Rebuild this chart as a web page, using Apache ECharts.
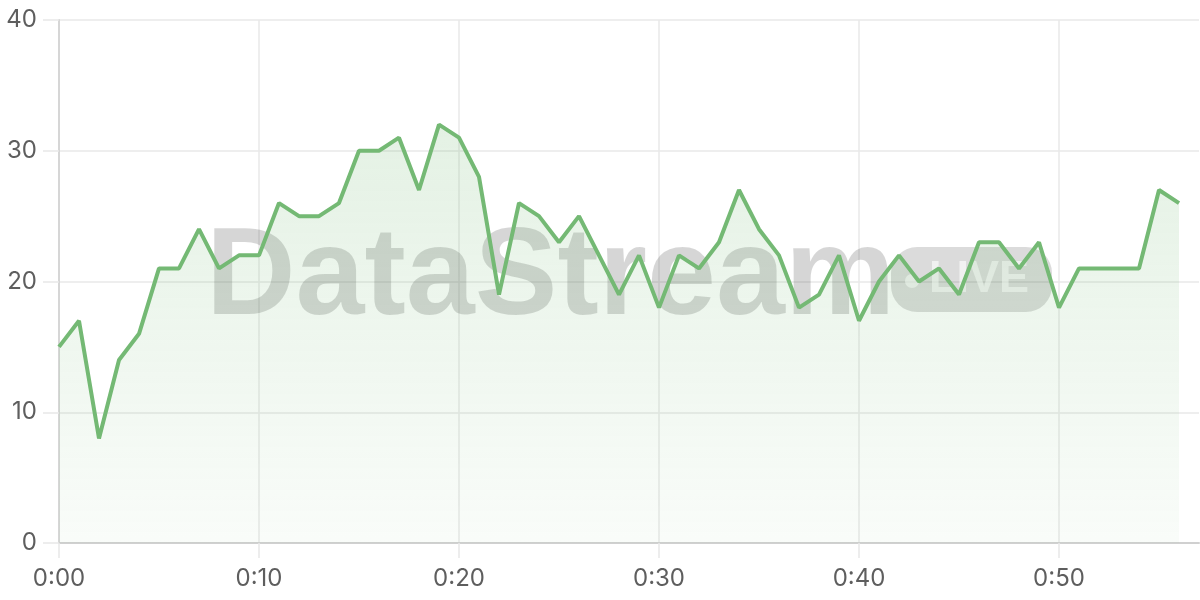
<!DOCTYPE html>
<html>
<head>
<meta charset="utf-8">
<script src="https://cdn.jsdelivr.net/npm/echarts@6/dist/echarts.min.js"></script>
<style>html,body{margin:0;padding:0;background:#fff}#c{width:1200px;height:600px}</style>
</head>
<body>
<div id="c"></div>
<script>
// minutes 0..57 (axis extends one step beyond the last sample)
var categories = [];
for (var m = 0; m <= 57; m++) categories.push('0:' + (m < 10 ? '0' + m : '' + m));
var values = [15,17,8,14,16,21,21,24,21,22,22,26,25,25,26,30,30,31,27,32,31,28,19,26,25,23,25,22,19,22,18,22,21,23,27,24,22,18,19,22,17,20,22,20,21,19,23,23,21,23,18,21,21,21,21,27,26];
var yTicks = [0,10,20,30,40];
var watermarkText = 'DataStream';
var badgeText = 'LIVE';

var chart = echarts.init(document.getElementById('c'));
var labelFont = 'Inter, "Noto Sans", sans-serif';
chart.setOption({
  animation: false,
  grid: {left: 59, right: 1, top: 20, bottom: 57},
  xAxis: {
    type: 'category',
    data: categories,
    boundaryGap: false,
    axisLine: {lineStyle: {color: '#d0d0d0', width: 2}},
    axisTick: {show: true, length: 15, interval: 9, lineStyle: {color: '#e8e8e8', width: 1.5}},
    axisLabel: {interval: 9, color: '#5e5e5e', fontSize: 24, fontFamily: labelFont, margin: 24},
    splitLine: {show: true, interval: 9, lineStyle: {color: '#e8e8e8', width: 1.5}}
  },
  yAxis: {
    type: 'value',
    min: yTicks[0], max: yTicks[yTicks.length - 1], interval: 10,
    axisLine: {show: true, lineStyle: {color: '#d6d6d6', width: 2}},
    axisTick: {show: true, length: 16, lineStyle: {color: '#e8e8e8', width: 1.5}},
    axisLabel: {color: '#5e5e5e', fontSize: 24, fontFamily: labelFont, margin: 22},
    splitLine: {lineStyle: {color: '#e8e8e8', width: 1.5}}
  },
  graphic: [
    {type: 'text', z: 1, left: 206, top: 218,
     style: {text: watermarkText, font: 'bold 124px "Liberation Sans", Arial, sans-serif', fill: 'rgba(0,0,0,0.16)'}},
    {type: 'rect', z: 1, shape: {x: 891, y: 247, width: 161, height: 65, r: 26},
     style: {fill: 'rgba(0,0,0,0.14)'}},
    {type: 'circle', z: 1, shape: {cx: 912, cy: 281, r: 7}, style: {fill: 'rgba(255,255,255,0.6)'}},
    {type: 'text', z: 1, left: 929, top: 257,
     style: {text: badgeText, font: 'bold 45px "Liberation Sans", Arial, sans-serif', fill: 'rgba(255,255,255,0.6)'}}
  ],
  series: [{
    type: 'line',
    data: values,
    symbol: 'none',
    z: 3,
    lineStyle: {color: '#74b974', width: 4},
    areaStyle: {
      color: new echarts.graphic.LinearGradient(0, 0, 0, 1, [
        {offset: 0, color: 'rgba(116,185,116,0.28)'},
        {offset: 1, color: 'rgba(116,185,116,0.06)'}
      ])
    }
  }]
});
</script>
</body>
</html>
